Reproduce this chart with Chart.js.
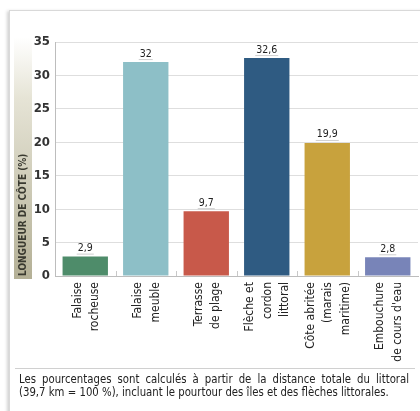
<!DOCTYPE html>
<html>
<head>
<meta charset="utf-8">
<script src="https://cdn.jsdelivr.net/npm/chart.js@4/dist/chart.umd.min.js"></script>
<style>
  html, body { margin: 0; padding: 0; background: #fff; }
  #wrap { position: relative; width: 420px; height: 411px; overflow: hidden; }
  #card { position: absolute; left: 9px; top: 10px; width: 420px; height: 410px; border: 1px solid #d9d9d9; box-shadow: -2px 1px 3px rgba(0,0,0,0.18); background: #fff; }
  #cv { position: absolute; left: 0; top: 0; }
  #rule { position: absolute; left: 15px; top: 368px; width: 400px; border-top: 1px solid #d0d0d0; }
  #note { position: absolute; left: 19px; top: 373px; width: 398px; transform: scaleX(0.98); transform-origin: 0 0;
          font-family: "DejaVu Sans", sans-serif; font-stretch: condensed; font-size: 11.5px; line-height: 13px; color: #222; }
  #note .l1 { text-align: justify; text-align-last: justify; }
  #note .l2 { text-align: left; }
</style>
</head>
<body>
<div id="wrap">
  <div id="card"></div>
  <canvas id="cv" width="420" height="411"></canvas>
  <div id="rule"></div>
  <div id="note"><div class="l1">Les pourcentages sont calculés à partir de la distance totale du littoral</div><div class="l2">(39,7 km = 100 %), incluant le pourtour des îles et des flèches littorales.</div></div>
</div>
<script>
const categories = [
  ["Falaise", "rocheuse"],
  ["Falaise", "meuble"],
  ["Terrasse", "de plage"],
  ["Flèche et", "cordon", "littoral"],
  ["Côte abritée", "(marais", "maritime)"],
  ["Embouchure", "de cours d'eau"]
];
const values = [2.9, 32, 9.7, 32.6, 19.9, 2.8];
const valueLabels = ["2,9", "32", "9,7", "32,6", "19,9", "2,8"];
const barColors = ["#4e8c6a", "#8dbfc7", "#c8594a", "#2f5b82", "#c8a23d", "#7884b8"];
const yTitle = "LONGUEUR DE CÔTE (%)";
const yMin = 0, yMax = 35, yStep = 5;

const FONT = '"DejaVu Sans", sans-serif';

const stripPlugin = {
  id: 'strip',
  beforeDraw(chart) {
    const ctx = chart.ctx;
    const a = chart.chartArea;
    const x0 = 14, w = 18;
    const top = a.top - 5, bot = a.bottom + 3;
    const g = ctx.createLinearGradient(0, top, 0, bot);
    g.addColorStop(0, 'rgba(255,255,255,1)');
    g.addColorStop(0.25, 'rgba(230,228,214,1)');
    g.addColorStop(1, 'rgba(180,176,150,1)');
    ctx.save();
    ctx.fillStyle = g;
    ctx.fillRect(x0, top, w, bot - top);
    ctx.restore();
  }
};

const labelPlugin = {
  id: 'vlabels',
  afterDatasetsDraw(chart) {
    const ctx = chart.ctx;
    const meta = chart.getDatasetMeta(0);
    const xs = chart.scales.x;
    const a = chart.chartArea;
    ctx.save();
    // small separator ticks between categories
    ctx.strokeStyle = '#c8c8c8';
    ctx.lineWidth = 1;
    for (let i = 1; i < meta.data.length; i++) {
      const x = Math.round((meta.data[i - 1].x + meta.data[i].x) / 2) + 0.5;
      ctx.beginPath();
      ctx.moveTo(x, a.bottom);
      ctx.lineTo(x, a.bottom - 5);
      ctx.stroke();
    }
    // value labels
    ctx.font = 'condensed 10.5px ' + FONT;
    ctx.textAlign = 'center';
    ctx.textBaseline = 'bottom';
    meta.data.forEach((bar, i) => {
      const tw = ctx.measureText(valueLabels[i]).width;
      ctx.fillStyle = 'rgba(120,120,120,0.35)';
      ctx.fillRect(bar.x - tw/2 - 1, bar.y - 3, tw + 2, 1);
      ctx.fillStyle = '#222';
      ctx.fillText(valueLabels[i], bar.x, bar.y - 3);
    });
    // category labels, rotated, block centred on each tick
    ctx.font = 'condensed 12px ' + FONT;
    ctx.fillStyle = '#222';
    ctx.textAlign = 'right';
    ctx.textBaseline = 'middle';
    const L = 17.5;
    categories.forEach((lines, i) => {
      const x = xs.getPixelForTick(i);
      const n = lines.length;
      lines.forEach((t, j) => {
        const cx = x + (j - (n - 1) / 2) * L + 1;
        ctx.save();
        ctx.translate(cx, xs.top + 6);
        ctx.rotate(-Math.PI / 2);
        ctx.fillText(t, 0, 0);
        ctx.restore();
      });
    });
    ctx.restore();
  }
};

new Chart(document.getElementById('cv'), {
  type: 'bar',
  data: {
    labels: categories,
    datasets: [{
      data: values,
      backgroundColor: barColors,
      borderWidth: 0,
      categoryPercentage: 1,
      barPercentage: 0.75
    }]
  },
  options: {
    responsive: false,
    animation: false,
    events: [],
    layout: { padding: { left: 0, top: 42, right: 2, bottom: 0 } },
    plugins: { legend: { display: false }, tooltip: { enabled: false } },
    scales: {
      y: {
        min: yMin, max: yMax,
        afterFit(s) { s.width = 55; s.paddingTop = 0; s.paddingBottom = 0; },
        ticks: { stepSize: yStep, color: '#333', padding: 5, font: { family: FONT, size: 13, weight: 'bold condensed' } },
        grid: { color: '#dedede', lineWidth: 1, drawTicks: false },
        border: { color: '#bdbdbd' },
        title: { display: true, text: yTitle, align: 'start', color: '#3a3a30',
                 font: { family: FONT, size: 10, weight: 'bold condensed' }, padding: { top: 17, bottom: 0 } }
      },
      x: {
        afterFit(s) { s.height = 135; s.paddingLeft = 0; s.paddingRight = 0; },
        ticks: { display: false },
        grid: { display: false },
        border: { color: '#bdbdbd' }
      }
    }
  },
  plugins: [stripPlugin, labelPlugin]
});
</script>
</body>
</html>
